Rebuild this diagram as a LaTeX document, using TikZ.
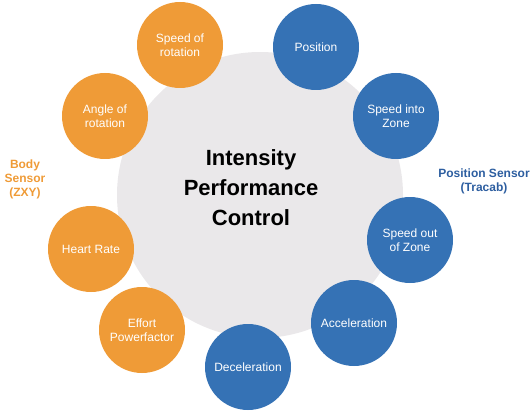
\documentclass[tikz,border=0pt]{standalone}
\usepackage{fontspec}
\setmainfont{Liberation Sans}
\usetikzlibrary{positioning}
\definecolor{cO}{RGB}{239,155,55}
\definecolor{cB}{RGB}{53,114,181}
\definecolor{cG}{RGB}{234,232,234}
\definecolor{cBt}{RGB}{45,94,160}

\begin{document}
\begin{tikzpicture}[x=1pt, y=-1pt,
    bubble/.style={circle, minimum size=86pt, inner sep=0pt, text=white, align=center, font=\fontsize{12}{14}\selectfont},
    obub/.style={bubble, fill=cO},
    bbub/.style={bubble, fill=cB},
    side/.style={align=center, font=\fontsize{12}{14}\selectfont\bfseries}]
    \useasboundingbox (0,0) rectangle (532,414);

    \node[circle, fill=cG, minimum size=286pt, inner sep=0pt] (core) at (260,195) {};
    \node[align=center, font=\fontsize{22}{30}\selectfont\bfseries] (title) at (251,188) {Intensity\\Performance\\Control};

    % body sensor side
    \node[obub] (rotspd) at (180,45) {Speed of\\rotation};
    \node[obub] (rotang) at (105,116) {Angle of\\rotation};
    \node[obub] (heart) at (91,249) {Heart Rate};
    \node[obub] (effort) at (142,330) {Effort\\Powerfactor};

    % position sensor side
    \node[bbub] (pos) at (316,47) {Position};
    \node[bbub] (spdin) at (396,116) {Speed into\\Zone};
    \node[bbub] (spdout) at (410,240) {Speed out\\of Zone};
    \node[bbub] (acc) at (354,323) {Acceleration};
    \node[bbub] (dec) at (248,367) {Deceleration};

    \node[side, text=cO] (body) at (25,179) {Body\\Sensor\\(ZXY)};
    \node[side, text=cBt] (tracab) at (484,181) {Position Sensor\\(Tracab)};
\end{tikzpicture}
\end{document}
